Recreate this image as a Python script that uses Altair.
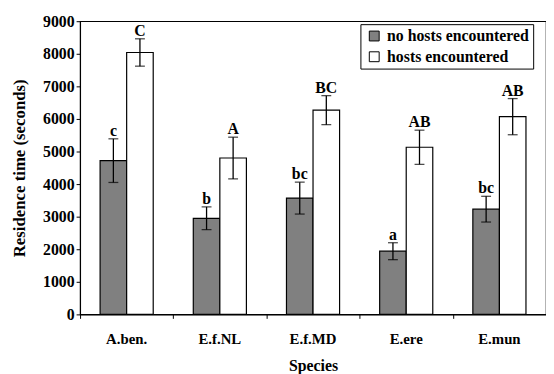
import altair as alt
import pandas as pd

species = ["A.ben.", "E.f.NL", "E.f.MD", "E.ere", "E.mun"]
groups = ["no hosts encountered", "hosts encountered"]
no_hosts = [4720, 2950, 3570, 1940, 3230]
no_hosts_err = [670, 350, 490, 260, 395]
no_hosts_letters = ["c", "b", "bc", "a", "bc"]
hosts = [8040, 4800, 6270, 5130, 6070]
hosts_err = [420, 640, 445, 525, 555]
hosts_letters = ["C", "A", "BC", "AB", "AB"]
y_ticks = [0, 1000, 2000, 3000, 4000, 5000, 6000, 7000, 8000, 9000]

rows = []
for s, v, e, l in zip(species, no_hosts, no_hosts_err, no_hosts_letters):
    rows.append({"species": s, "group": groups[0], "value": v, "lo": v - e, "hi": v + e, "letter": l})
for s, v, e, l in zip(species, hosts, hosts_err, hosts_letters):
    rows.append({"species": s, "group": groups[1], "value": v, "lo": v - e, "hi": v + e, "letter": l})
df = pd.DataFrame(rows)

FONT = "Liberation Serif"
W, H = 472, 297
step = W / len(species)

xscale = alt.Scale(domain=species, paddingInner=0.43, paddingOuter=0.215)
xoff = alt.XOffset("group:N", sort=groups, scale=alt.Scale(domain=groups, paddingInner=0, paddingOuter=0))
yscale = alt.Scale(domain=[0, 9000], nice=False)
yaxis = alt.Axis(values=y_ticks, format="d", grid=False, tickSize=4, tickColor="black", domainColor="black",
                 labelFont=FONT, labelFontSize=16, labelFontWeight="bold", labelColor="black", labelPadding=2,
                 title="Residence time (seconds)", titleFont=FONT, titleFontSize=17, titleFontWeight="bold",
                 titleColor="black", titleX=-61, titleY=H / 2, titleAngle=-90, titleAlign="center",
                 titleBaseline="middle")

x_label_axis = alt.Axis(ticks=False, domain=True, domainColor="black", labelAngle=0,
                        labelFont=FONT, labelFontSize=15, labelFontWeight="bold", labelColor="black",
                        labelPadding=17, title="Species", titleFont=FONT, titleFontSize=16,
                        titleFontWeight="bold", titleColor="black", titleY=52, titleBaseline="middle",
                        orient="bottom")
x_tick_axis = alt.Axis(ticks=True, tickSize=4, tickColor="black", tickOffset=-step / 2, bandPosition=0.5,
                       labels=False, domain=False, title=None, orient="bottom")

base = alt.Chart(df)

bars = base.mark_bar(stroke="black", strokeWidth=1.2).encode(
    x=alt.X("species:N", sort=species, scale=xscale, axis=x_label_axis),
    xOffset=xoff,
    y=alt.Y("value:Q", scale=yscale, axis=yaxis),
    color=alt.Color("group:N", sort=groups,
                    scale=alt.Scale(domain=groups, range=["#808080", "#ffffff"]),
                    legend=alt.Legend(orient="none", legendX=284, legendY=3, title=None,
                                      strokeColor="black", fillColor="white", padding=4,
                                      symbolType="square", symbolSize=100, symbolStrokeColor="black",
                                      symbolStrokeWidth=1, symbolOffset=2, labelFont=FONT, labelFontSize=16,
                                      labelFontWeight="bold", labelColor="black", rowPadding=5,
                                      labelOffset=5)),
)

stems = base.mark_rule(color="black", strokeWidth=1.3).encode(
    x=alt.X("species:N", sort=species, scale=xscale, axis=x_tick_axis),
    xOffset=xoff,
    y=alt.Y("lo:Q", scale=yscale, axis=yaxis),
    y2="hi:Q",
)

caps_hi = base.mark_tick(color="black", thickness=1.3, size=10).encode(
    x=alt.X("species:N", sort=species, scale=xscale, axis=None),
    xOffset=xoff,
    y=alt.Y("hi:Q", scale=yscale, axis=yaxis),
)
caps_lo = base.mark_tick(color="black", thickness=1.3, size=10).encode(
    x=alt.X("species:N", sort=species, scale=xscale, axis=None),
    xOffset=xoff,
    y=alt.Y("lo:Q", scale=yscale, axis=yaxis),
)

letters = base.mark_text(font=FONT, fontSize=16, fontWeight="bold", color="black",
                         baseline="bottom", dy=0).encode(
    x=alt.X("species:N", sort=species, scale=xscale, axis=None),
    xOffset=xoff,
    y=alt.Y("hi:Q", scale=yscale, axis=yaxis),
    text="letter:N",
)

chart = alt.layer(bars, stems, caps_hi, caps_lo, letters).resolve_axis(x="independent").properties(
    width=W, height=H,
    autosize=alt.AutoSizeParams(type="none"),
    padding={"left": 73, "top": 11, "right": 0, "bottom": 58},
).configure_view(stroke="black", strokeWidth=1.2)

chart.save("out.html", embed_options={"renderer": "svg", "actions": False})
